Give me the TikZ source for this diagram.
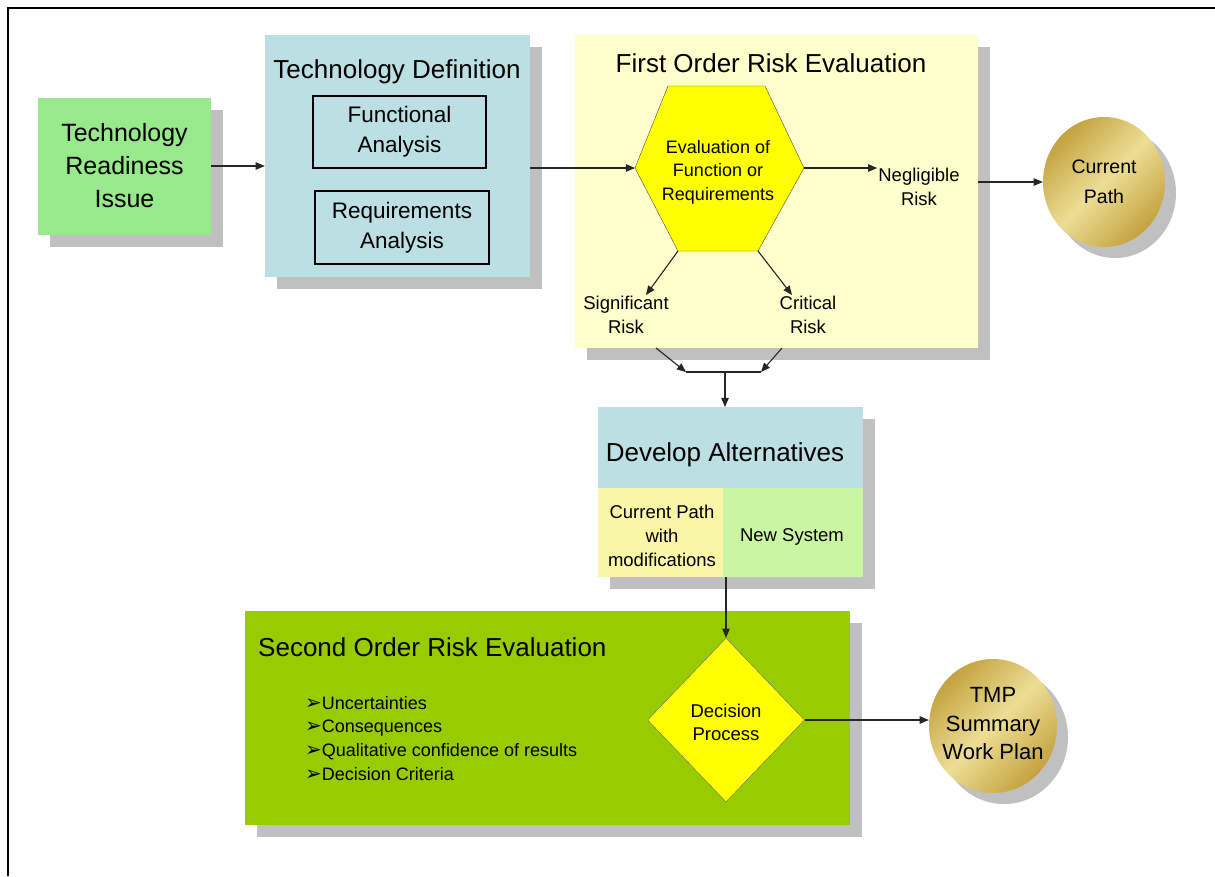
\documentclass[tikz,border=0pt]{standalone}
\usepackage{fontspec}
\setmainfont{Liberation Sans}
\newfontfamily\dingfont{DejaVu Sans}
\usetikzlibrary{arrows,shapes.geometric,shadows}
\definecolor{GR}{RGB}{152, 232, 140}
\definecolor{BL}{RGB}{187, 223, 226}
\definecolor{YL}{RGB}{255, 255, 204}
\definecolor{HY}{RGB}{255, 255, 0}
\definecolor{DY}{RGB}{249, 246, 165}
\definecolor{DG}{RGB}{202, 245, 162}
\definecolor{OG}{RGB}{153, 204, 0}
\definecolor{SH}{RGB}{192, 192, 192}
\definecolor{GD}{RGB}{196, 162, 62}
\definecolor{GL}{RGB}{236, 222, 150}
\newcommand{\arrb}{{\dingfont\fontsize{20}{20}\selectfont ➢}}
\tikzset{
  panel/.style={rectangle, inner sep=0pt, drop shadow={shadow xshift=12pt, shadow yshift=-12pt, fill=SH, opacity=1}},
  gold/.style={ellipse, inner sep=0pt, shading=axis, top color=GD, bottom color=GD, middle color=GL, shading angle=45, drop shadow={shadow xshift=11pt, shadow yshift=-11pt, fill=SH, opacity=1}},
  ttl/.style={inner sep=1pt, font=\fontsize{26}{30}\selectfont},
  big/.style={inner sep=1pt, align=center, font=\fontsize{25}{33}\selectfont},
  mid/.style={inner sep=1pt, align=center, font=\fontsize{22.5}{30}\selectfont},
  sml/.style={inner sep=1pt, align=center, font=\fontsize{18.5}{24}\selectfont},
  lst/.style={inner sep=0pt, align=left, font=\fontsize{18}{23.7}\selectfont},
  con/.style={->, line width=1.1pt, black!85}
}
\begin{document}
\begin{tikzpicture}[x=1pt, y=-1pt, >=triangle 45]
  \useasboundingbox (0,0) rectangle (1215,876);
  \fill[white] (0,0) rectangle (1215,876);
  \draw[line width=1.5pt] (8,876) -- (8,8) -- (1215,8);
  % boxes
  \node[panel, fill=GR, minimum width=173, minimum height=137] (tri) at (124.5,166) {};
  \node[big] (tritxt) at (tri) {Technology\\Readiness\\Issue};
  \node[panel, fill=BL, minimum width=265, minimum height=242] (td) at (397.5,156) {};
  \node[ttl] (tdtitle) at (397,72) {Technology Definition};
  \node[draw, line width=1.2pt, minimum width=173, minimum height=72, mid] (fa) at (399.5,132) {Functional\\Analysis};
  \node[draw, line width=1.2pt, minimum width=174, minimum height=73, mid] (ra) at (402,227.5) {Requirements\\Analysis};
  \node[panel, fill=YL, minimum width=403, minimum height=313] (fo) at (776.5,191.5) {};
  \node[ttl] (fotitle) at (771,63) {First Order Risk Evaluation};
  \filldraw[fill=HY, draw=black!70] (668,86) -- (765,86) -- (804,168) -- (758,251) -- (678,251) -- (635,168) -- cycle;
  \coordinate (hexL) at (635,168);
  \coordinate (hexR) at (804,168);
  \coordinate (hexBL) at (678,251);
  \coordinate (hexBR) at (758,251);
  \node[sml, font=\fontsize{18}{23.5}\selectfont] (eval) at (718,172) {Evaluation of\\Function or\\Requirements};
  \node[sml] (neg) at (919,187) {Negligible\\Risk};
  \node[sml] (sig) at (626,315) {Significant\\Risk};
  \node[sml] (crit) at (808,315) {Critical\\Risk};
  \node[gold, minimum width=122, minimum height=130] (cp) at (1104,182) {};
  \node[sml, font=\fontsize{19.5}{30}\selectfont] (cptxt) at (cp) {Current\\Path};
  \node[panel, fill=BL, minimum width=265, minimum height=170, anchor=north west] (da) at (598,407) {};
  \node[ttl] (datitle) at (725,455) {Develop Alternatives};
  \node[fill=DY, minimum width=125, minimum height=89, inner sep=0pt] (dal) at (660.5,532.5) {};
  \node[fill=DG, minimum width=140, minimum height=89, inner sep=0pt] (dar) at (793,532.5) {};
  \node[sml] (daltxt) at (662,536) {Current Path\\with\\modifications};
  \node[sml] (dartxt) at (792,537) {New System};
  \node[panel, fill=OG, minimum width=605, minimum height=214] (so) at (547.5,718) {};
  \node[ttl, anchor=west] (sotitle) at (257,647) {Second Order Risk Evaluation};
  \node[lst, anchor=north west] (items) at (305,696) {\arrb Uncertainties\\\arrb Consequences\\\arrb Qualitative confidence of results\\\arrb Decision Criteria};
  \node[diamond, fill=HY, draw=black!60, minimum width=157, minimum height=164, inner sep=0pt] (dec) at (726,720) {};
  \node[sml, font=\fontsize{18.5}{23}\selectfont] (dectxt) at (726,722) {Decision\\Process};
  \node[gold, minimum width=128, minimum height=134] (tmp) at (993,726) {};
  \node[sml, font=\fontsize{22}{28.5}\selectfont] (tmptxt) at (993,724) {TMP\\Summary\\Work Plan};
  % connectors
  \coordinate (sigout) at (656,348);
  \coordinate (critout) at (782,348);
  \coordinate (jL) at (686,372);
  \coordinate (jR) at (761,372);
  \coordinate (jn) at (725,372);
  \draw[con] (tri.east) -- (tri.east -| td.west);
  \draw[con] (td.east |- hexL) -- (hexL);
  \draw[con] (hexR) -- (hexR -| neg.west);
  \draw[con] (fo.east |- cp.west) -- (cp.west);
  \draw[con] (hexBL) -- ([xshift=20pt]sig.north);
  \draw[con] (hexBR) -- ([xshift=-16pt]crit.north);
  \draw[con] (sigout) -- (jL);
  \draw[con] (critout) -- (jR);
  \draw[line width=1.1pt, black!85] (jL) -- (jR);
  \draw[con] (jn) -- (jn |- da.north);
  \draw[con] (dec.north |- da.south) -- (dec.north);
  \draw[con] (dec.east) -- (dec.east -| tmp.west);
\end{tikzpicture}
\end{document}
